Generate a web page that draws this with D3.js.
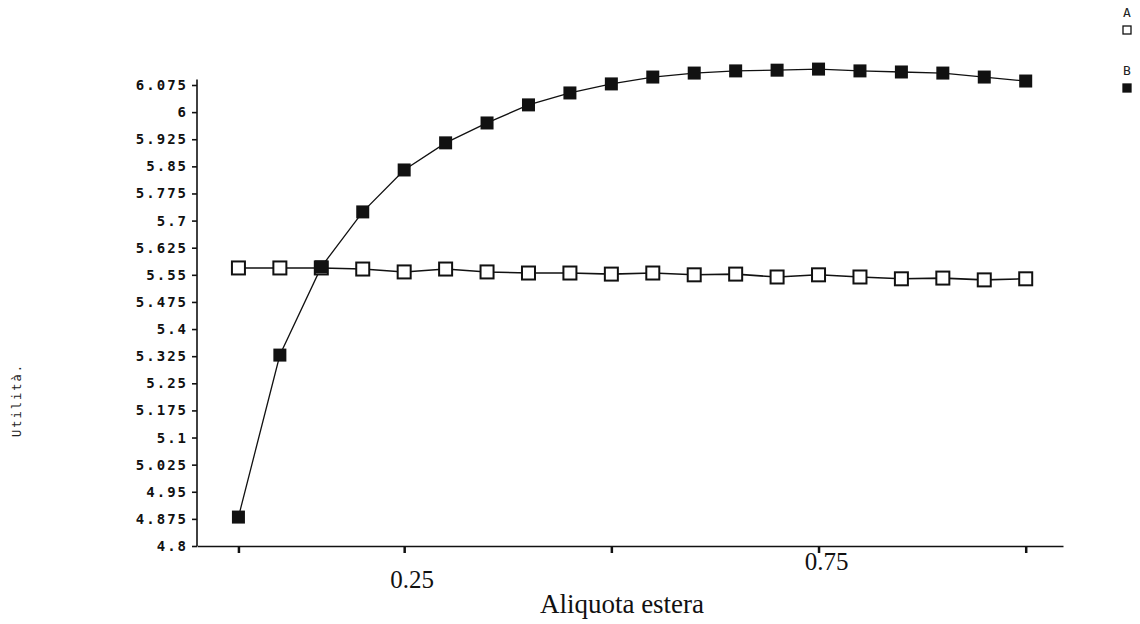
<!DOCTYPE html>
<html>
<head>
<meta charset="utf-8">
<script src="https://cdn.jsdelivr.net/npm/d3@7"></script>
<style>
  body { margin: 0; background: #fff; }
  svg { display: block; }
  .ylab { font-family: 'DejaVu Sans Mono', monospace; font-weight: bold; font-size: 14px; letter-spacing: 2px; fill: #111; }
  .serif { font-family: 'Liberation Serif', 'DejaVu Serif', serif; fill: #111; }
</style>
</head>
<body>
<div id="chart"></div>
<script>
// x positions: share of foreign quota (20 steps)
const xVals = [0.05, 0.10, 0.15, 0.20, 0.25, 0.30, 0.35, 0.40, 0.45, 0.50,
               0.55, 0.60, 0.65, 0.70, 0.75, 0.80, 0.85, 0.90, 0.95, 1.00];

const seriesA = [5.569, 5.569, 5.569, 5.566, 5.558, 5.566, 5.558, 5.555, 5.555, 5.552,
                 5.555, 5.550, 5.552, 5.544, 5.550, 5.544, 5.539, 5.541, 5.536, 5.539];
const seriesB = [4.880, 5.328, 5.572, 5.724, 5.840, 5.915, 5.970, 6.020, 6.053, 6.078,
                 6.097, 6.108, 6.114, 6.116, 6.119, 6.114, 6.111, 6.108, 6.097, 6.086];

const yTicks = [4.8, 4.875, 4.95, 5.025, 5.1, 5.175, 5.25, 5.325, 5.4, 5.475,
                5.55, 5.625, 5.7, 5.775, 5.85, 5.925, 6, 6.075];
const yTickLabels = ['4.8', '4.875', '4.95', '5.025', '5.1', '5.175', '5.25', '5.325', '5.4', '5.475',
                     '5.55', '5.625', '5.7', '5.775', '5.85', '5.925', '6', '6.075'];
const xTicks = [0.05, 0.25, 0.5, 0.75, 1.0];
const xLabels = [0.25, 0.75];
const legendNames = ['A', 'B'];

const width = 1140, height = 624;

const svg = d3.select('#chart').append('svg')
  .attr('width', width)
  .attr('height', height);

const x = d3.scaleLinear().domain([0, 1.045]).range([197, 1063]);
const y = d3.scaleLinear().domain([4.8, 6.075]).range([546, 85]);

// y axis
const yAxis = d3.axisLeft(y)
  .tickValues(yTicks)
  .tickFormat((d, i) => yTickLabels[i])
  .tickSize(5)
  .tickSizeOuter(0)
  .tickPadding(4);

const gy = svg.append('g')
  .attr('transform', `translate(${x(0)},0)`)
  .call(yAxis);
gy.select('.domain')
  .attr('d', `M0,${y(4.8)}V${y(6.09)}`)
  .attr('stroke', '#111').attr('stroke-width', 1.6);
gy.selectAll('.tick line').attr('stroke', '#111').attr('stroke-width', 1.6);
gy.selectAll('.tick text').attr('class', 'ylab');

// x axis
const xAxis = d3.axisBottom(x)
  .tickValues(xTicks)
  .tickFormat('')
  .tickSize(7)
  .tickSizeOuter(0);

const gx = svg.append('g')
  .attr('transform', `translate(0,${y(4.8)})`)
  .call(xAxis);
gx.select('.domain').attr('stroke', '#111').attr('stroke-width', 1.6);
gx.selectAll('.tick line').attr('stroke', '#111').attr('stroke-width', 2.5);

svg.selectAll('.xlab')
  .data(xLabels)
  .enter().append('text')
  .attr('class', 'serif xlab')
  .attr('x', d => x(d) + 8)
  .attr('y', (d, i) => i === 0 ? 588 : 570)
  .attr('text-anchor', 'middle')
  .style('font-size', '25px')
  .text(d => d);

svg.append('text')
  .attr('class', 'serif')
  .attr('x', 622)
  .attr('y', 613)
  .attr('text-anchor', 'middle')
  .style('font-size', '27px')
  .text('Aliquota estera');

svg.append('text')
  .attr('transform', 'translate(21,400) rotate(-90)')
  .attr('text-anchor', 'middle')
  .style('font-family', "'DejaVu Sans Mono', monospace")
  .style('font-size', '12px')
  .style('letter-spacing', '2px')
  .style('fill', '#222')
  .text('Utilità.');

// lines
const line = d3.line()
  .x((d, i) => x(xVals[i]))
  .y(d => y(d));

svg.append('path')
  .datum(seriesA)
  .attr('fill', 'none')
  .attr('stroke', '#111')
  .attr('stroke-width', 1.6)
  .attr('d', line);

svg.append('path')
  .datum(seriesB)
  .attr('fill', 'none')
  .attr('stroke', '#111')
  .attr('stroke-width', 1.3)
  .attr('d', line);

// markers
const sq = 13;
svg.selectAll('.markA')
  .data(seriesA)
  .enter().append('rect')
  .attr('x', (d, i) => x(xVals[i]) - sq / 2)
  .attr('y', d => y(d) - sq / 2)
  .attr('width', sq)
  .attr('height', sq)
  .attr('fill', '#fff')
  .attr('stroke', '#111')
  .attr('stroke-width', 2);

svg.selectAll('.markB')
  .data(seriesB)
  .enter().append('rect')
  .attr('x', (d, i) => x(xVals[i]) - sq / 2)
  .attr('y', d => y(d) - sq / 2)
  .attr('width', sq)
  .attr('height', sq)
  .attr('fill', '#111');

// legend, top right corner
const legend = svg.append('g').attr('transform', 'translate(1127,0)');
legendNames.forEach((name, i) => {
  const top = i * 58;
  legend.append('text')
    .attr('y', top + 17)
    .attr('text-anchor', 'middle')
    .style('font-family', "'DejaVu Sans Mono', monospace")
    .style('font-size', '13px')
    .style('fill', '#222')
    .text(name);
  legend.append('rect')
    .attr('x', -4)
    .attr('y', top + 26)
    .attr('width', 8)
    .attr('height', 8)
    .attr('fill', i === 0 ? '#fff' : '#111')
    .attr('stroke', '#111')
    .attr('stroke-width', 1.3);
});
</script>
</body>
</html>
